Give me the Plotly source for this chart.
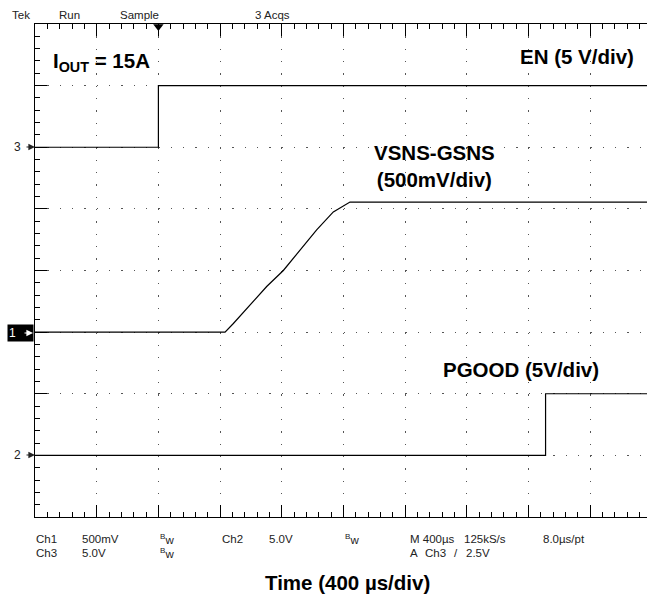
import plotly.graph_objects as go

# ---------------- data (time in µs, values in volts) ----------------
time_per_div_us = 400
trigger_time_us = 0

en_time_us = [-800, 0, 0, 3200]
en_volts = [0.0, 0.0, 5.0, 5.0]

vsns_time_us = [-800, 432, 486, 594, 702, 810, 920, 1026, 1134, 1242, 3200]
vsns_volts = [0.0, 0.0, 0.07, 0.22, 0.37, 0.50, 0.665, 0.83, 0.975, 1.055, 1.055]

pgood_time_us = [-800, 2510, 2510, 3200]
pgood_volts = [0.0, 0.0, 5.0, 5.0]

# channel settings: volts/div and marker position (div)
en_scale, en_pos = 5.0, 2.0        # Ch3
vsns_scale, vsns_pos = 0.5, -1.0   # Ch1
pgood_scale, pgood_pos = 5.0, -3.0 # Ch2

# ---------------- layout geometry (pixels) ----------------
W, H = 647, 596
PL, PR, PT, PB = 35, 647, 24, 517
DIV_X = 61.7
x_start = -800
x_end = x_start + (PR - PL) / DIV_X * time_per_div_us


def px(x):
    return (x - PL) / (PR - PL)


def py(y):
    return (PB - y) / (PB - PT)


def to_div(vals, scale, pos):
    return [pos + v / scale for v in vals]


fig = go.Figure()
line_style = dict(color="black", width=1.2)
fig.add_trace(go.Scatter(x=en_time_us, y=to_div(en_volts, en_scale, en_pos),
                         mode="lines", line=line_style, hoverinfo="skip"))
fig.add_trace(go.Scatter(x=vsns_time_us, y=to_div(vsns_volts, vsns_scale, vsns_pos),
                         mode="lines", line=line_style, hoverinfo="skip"))
fig.add_trace(go.Scatter(x=pgood_time_us, y=to_div(pgood_volts, pgood_scale, pgood_pos),
                         mode="lines", line=line_style, hoverinfo="skip"))
# trigger marker
fig.add_trace(go.Scatter(x=[trigger_time_us], y=[4 - 2.5 / 61.6], mode="markers",
                         marker=dict(symbol="triangle-down", size=9, color="black"),
                         cliponaxis=False, hoverinfo="skip"))

dot_dash = "1.3px,11.04px"
fig.update_xaxes(range=[x_start, x_end], showticklabels=False, zeroline=False,
                 showline=True, linecolor="black", linewidth=1, mirror="ticks",
                 ticks="inside", ticklen=12, tickcolor="black", tickwidth=1,
                 dtick=time_per_div_us, tick0=x_start,
                 minor=dict(ticks="inside", ticklen=5, dtick=time_per_div_us / 5,
                            tickcolor="black", tickwidth=1, showgrid=False),
                 showgrid=True, gridcolor="#555555", gridwidth=1.3, griddash=dot_dash)
fig.update_yaxes(range=[-4, 4], showticklabels=False, zeroline=False,
                 showline=True, linecolor="black", linewidth=1, mirror=False,
                 ticks="inside", ticklen=12, tickcolor="black", tickwidth=1,
                 dtick=1, tick0=0,
                 minor=dict(ticks="inside", ticklen=5, dtick=0.2,
                            tickcolor="black", tickwidth=1, showgrid=False),
                 showgrid=True, gridcolor="#555555", gridwidth=1.3, griddash=dot_dash)

ann = []
tek_font = dict(family="Liberation Sans, Arial, sans-serif", size=11.5, color="#222222")


def txt(text, x, y, xanchor="left", font=tek_font, **kw):
    ann.append(dict(text=text, x=px(x), y=py(y), xref="paper", yref="paper",
                    xanchor=xanchor, yanchor="middle", showarrow=False, font=font, **kw))


def arrow(x, y, color):
    ann.append(dict(text=" ", x=px(x), y=py(y), xref="paper", yref="paper",
                    showarrow=True, ax=-10, ay=0, arrowhead=2, arrowsize=1.1,
                    arrowwidth=1.2, arrowcolor=color, standoff=0,
                    font=dict(size=1)))


# top status bar
txt("Tek", 10, 15)
txt("Run", 57, 15)
txt("Sample", 118, 15)
txt("3 Acqs", 253, 15)

# bottom status bar
row1, row2 = 539, 553
txt("Ch1", 34, row1)
txt("500mV", 80, row1)
txt("<sup>B</sup>w", 158, row1)
txt("Ch2", 220, row1)
txt("5.0V", 267, row1)
txt("<sup>B</sup>w", 343, row1)
txt("M 400µs", 408, row1)
txt("125kS/s", 462, row1)
txt("8.0µs/pt", 541, row1)
txt("Ch3", 34, row2)
txt("5.0V", 80, row2)
txt("<sup>B</sup>w", 158, row2)
txt("A", 408, row2)
txt("Ch3", 423, row2)
txt("/", 452, row2)
txt("2.5V", 464, row2)

# channel markers on the left edge
marker_font = dict(family="Liberation Sans, Arial, sans-serif", size=12, color="#222222")
txt("3", 23, 147, xanchor="right", font=marker_font)
arrow(35, 147, "#222222")
txt("2", 23, 455, xanchor="right", font=marker_font)
arrow(35, 455, "#222222")
txt("1&nbsp;&nbsp;&nbsp;&nbsp;&nbsp;", 34, 333, xanchor="right",
    font=dict(family="Liberation Sans, Arial, sans-serif", size=12, color="white"),
    bgcolor="black", borderpad=1)
arrow(33, 333, "white")

# bold labels
bold = dict(family="Liberation Sans, Arial, sans-serif", size=20.5, color="black")
txt("<b>I<sub>OUT</sub> = 15A</b>", 51, 62, font=bold)
txt("<b>EN (5 V/div)</b>", 636, 57, xanchor="right", font=bold)
txt("<b>VSNS-GSNS<br>(500mV/div)</b>", 434, 166, xanchor="center", font=bold)
txt("<b>PGOOD (5V/div)</b>", 521, 369, xanchor="center", font=bold)
txt("<b>Time (400 µs/div)</b>", 347, 582, xanchor="center", font=bold)

fig.update_layout(width=W, height=H, showlegend=False,
                  margin=dict(l=PL, r=W - PR, t=PT, b=H - PB, pad=0),
                  paper_bgcolor="white", plot_bgcolor="white",
                  annotations=ann)

fig.write_html("out.html", config={"displayModeBar": False},
               post_script="document.body.style.margin='0';document.body.style.padding='0';")
